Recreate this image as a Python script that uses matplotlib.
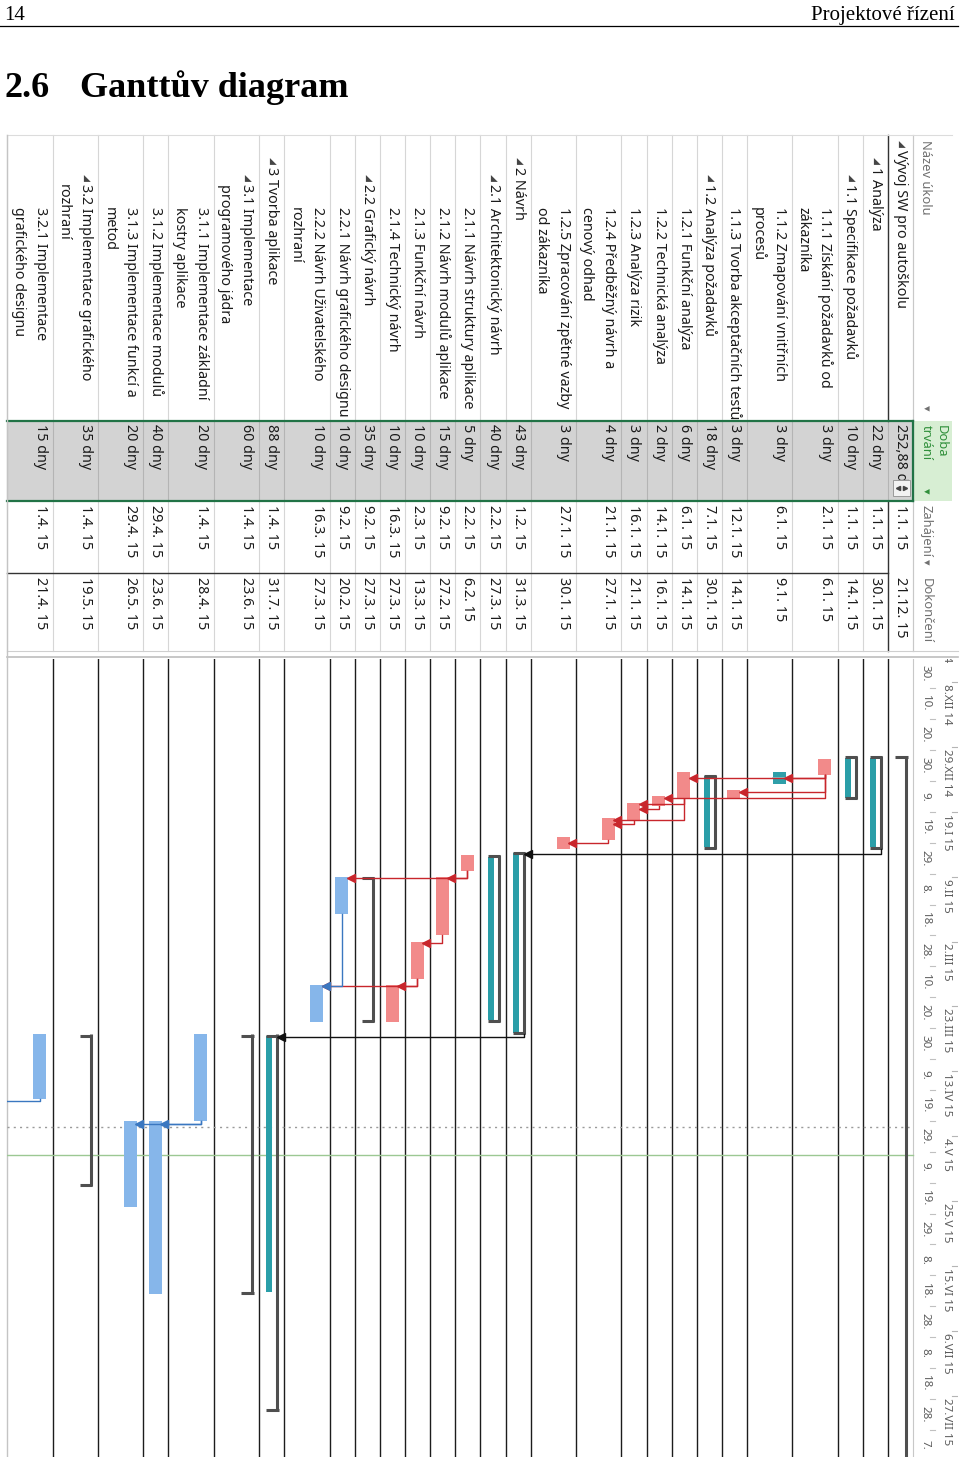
import numpy as np
import matplotlib
matplotlib.use("Agg")
import matplotlib.pyplot as plt
import matplotlib.dates as mdates
from matplotlib.patches import Rectangle
from datetime import datetime, timedelta

plt.rcParams['font.family'] = ['Noto Sans', 'DejaVu Sans']

# ---------------- data ----------------
names = [
    "Vývoj SW pro autoškolu",
    "1 Analýza",
    "1.1 Specifikace požadavků",
    "1.1.1 Získání požadavků od\nzákazníka",
    "1.1.2 Zmapování vnitřních\nprocesů",
    "1.1.3 Tvorba akceptačních testů",
    "1.2 Analýza požadavků",
    "1.2.1 Funkční analýza",
    "1.2.2 Technická analýza",
    "1.2.3 Analýza rizik",
    "1.2.4 Předběžný návrh a\ncenový odhad",
    "1.2.5 Zpracování zpětné vazby\nod zákazníka",
    "2 Návrh",
    "2.1 Architektonický návrh",
    "2.1.1 Návrh struktury aplikace",
    "2.1.2 Návrh modulů aplikace",
    "2.1.3 Funkční návrh",
    "2.1.4 Technický návrh",
    "2.2 Grafický návrh",
    "2.2.1 Návrh grafického designu",
    "2.2.2 Návrh Uživatelského\nrozhraní",
    "3 Tvorba aplikace",
    "3.1 Implementace\nprogramového jádra",
    "3.1.1 Implementace základní\nkostry aplikace",
    "3.1.2 Implementace modulů",
    "3.1.3 Implementace funkcí a\nmetod",
    "3.2 Implementace grafického\nrozhraní",
    "3.2.1 Implementace\ngrafického designu",
]
levels = [0, 1, 2, 3, 3, 3, 2, 3, 3, 3, 3, 3, 1, 2, 3, 3, 3, 3, 2, 3, 3, 1, 2, 3, 3, 3, 2, 3]
durations = ["252,88 d", "22 dny", "10 dny", "3 dny", "3 dny", "3 dny", "18 dny", "6 dny",
             "2 dny", "3 dny", "4 dny", "3 dny", "43 dny", "40 dny", "5 dny", "15 dny",
             "10 dny", "10 dny", "35 dny", "10 dny", "10 dny", "88 dny", "60 dny", "20 dny",
             "40 dny", "20 dny", "35 dny", "15 dny"]
starts = ["1.1. 15", "1.1. 15", "1.1. 15", "2.1. 15", "6.1. 15", "12.1. 15", "7.1. 15",
          "6.1. 15", "14.1. 15", "16.1. 15", "21.1. 15", "27.1. 15", "1.2. 15", "2.2. 15",
          "2.2. 15", "9.2. 15", "2.3. 15", "16.3. 15", "9.2. 15", "9.2. 15", "16.3. 15",
          "1.4. 15", "1.4. 15", "1.4. 15", "29.4. 15", "29.4. 15", "1.4. 15", "1.4. 15"]
finishes = ["21.12. 15", "30.1. 15", "14.1. 15", "6.1. 15", "9.1. 15", "14.1. 15", "30.1. 15",
            "14.1. 15", "16.1. 15", "21.1. 15", "27.1. 15", "30.1. 15", "31.3. 15", "27.3. 15",
            "6.2. 15", "27.2. 15", "13.3. 15", "27.3. 15", "27.3. 15", "20.2. 15", "27.3. 15",
            "31.7. 15", "23.6. 15", "28.4. 15", "23.6. 15", "26.5. 15", "19.5. 15", "21.4. 15"]
# sum = summary bracket, crit = critical (red), norm = normal (blue), done = finished task
kinds = ["sum", "sum", "sum", "crit", "done", "crit", "sum", "crit", "crit", "crit", "crit",
         "crit", "sum", "sum", "crit", "crit", "crit", "crit", "sum", "norm", "norm", "sum",
         "sum", "norm", "norm", "norm", "sum", "norm"]
bold_cells = [0, 2, 6, 13, 18]
# teal part inside some summary bars
summary_fill = {1: ("1.1. 15", "30.1. 15"), 2: ("1.1. 15", "14.1. 15"),
                6: ("7.1. 15", "30.1. 15"), 12: ("1.2. 15", "31.3. 15"),
                13: ("2.2. 15", "27.3. 15"), 21: ("1.4. 15", "23.6. 15")}
# predecessor, successor, colour
links = [(3, 4, "r"), (3, 5, "r"), (3, 7, "r"), (3, 8, "r"), (7, 9, "r"), (8, 9, "r"),
         (7, 10, "r"), (9, 10, "r"), (10, 11, "r"), (1, 12, "k"), (14, 15, "r"),
         (14, 19, "r"), (15, 16, "r"), (16, 17, "r"), (16, 20, "r"), (19, 20, "b"),
         (12, 21, "k"), (23, 24, "b"), (23, 25, "b"), (27, None, "b")]
status_date = datetime(2015, 5, 1)
today = datetime(2015, 5, 10)
top_tier_start = datetime(2014, 11, 17)   # every 3 weeks
bottom_tier_start = datetime(2014, 11, 30)  # every 10 days
ROMAN = ["I", "II", "III", "IV", "V", "VI", "VII", "VIII", "IX", "X", "XI", "XII"]


def to_date(s):
    d, m, y = s.replace(" ", "").split(".")
    return datetime(2000 + int(y), int(m), int(d))


def dn(s):
    return mdates.date2num(to_date(s))


# ---------------- figure ----------------
W, H = 960, 1457
fig = plt.figure(figsize=(W / 100, H / 100), dpi=100)
page = fig.add_axes([0, 0, 1, 1])
page.set_xlim(0, W)
page.set_ylim(H, 0)
page.axis("off")

SERIF = ["Liberation Serif", "DejaVu Serif"]
page.text(4, 20, "14", fontsize=15, family=SERIF, va="baseline")
page.text(955, 20, "Projektové řízení", fontsize=15, family=SERIF, ha="right", va="baseline")
page.plot([0, 958], [26, 26], color="black", lw=0.9)
page.text(4, 97, "2.6", fontsize=26, family=SERIF, weight="bold", va="baseline")
page.text(80, 97, "Ganttův diagram", fontsize=26, family=SERIF, weight="bold", va="baseline")

# row geometry (screenshot rotated 90 degrees, first row on the right)
n_lines = [len(n.split("\n")) for n in names]
row_h = np.array([25.1 if k == 1 else 45.4 for k in n_lines])
right = 913 - np.concatenate([[0], np.cumsum(row_h)[:-1]])
left = right - row_h
edges = list(right) + [left[-1]]

# ---------------- table part ----------------
TY0, NAME1, DUR1, START1, FIN1 = 135, 421, 501, 573, 651
TXT = "#1a1a1a"
FS = 10.3
page.add_patch(Rectangle((7, NAME1), 906, DUR1 - NAME1, fc="#d3d3d3", ec="none"))
page.add_patch(Rectangle((913, NAME1), 39, DUR1 - NAME1, fc="#d7eed3", ec="none"))
for x in edges:
    page.plot([x, x], [TY0, FIN1], color="#d6d6d6", lw=0.8)
    page.plot([x, x], [NAME1, DUR1], color="#b4b4b4", lw=0.8)
page.plot([888, 888], [TY0, NAME1], color="#333", lw=1.0)
page.plot([888, 888], [DUR1, FIN1], color="#333", lw=1.0)
page.plot([913, 913], [TY0, FIN1], color="#c8c8c8", lw=0.8)
page.plot([7, 952], [TY0, TY0], color="#dcdcdc", lw=0.8)
page.plot([7, 888], [START1, START1], color="#333", lw=1.0)
page.plot([7, 913], [NAME1, NAME1], color="#217346", lw=1.6)
page.plot([7, 913], [DUR1, DUR1], color="#217346", lw=1.6)
page.plot([913, 913], [NAME1, DUR1], color="#217346", lw=1.6)
page.plot([7, 958], [FIN1, FIN1], color="#cfcfcf", lw=0.8)
page.plot([7, 958], [657, 657], color="#bdbdbd", lw=1.2)
page.plot([7, 7], [TY0, H], color="#c4c4c4", lw=1.0)

name_clip = Rectangle((0, TY0), 960, NAME1 - TY0 - 2, transform=page.transData, fc="none", ec="none")
page.add_patch(name_clip)
rot = dict(rotation=-90, rotation_mode="anchor", va="center", ha="left")

HFS = 9.3
page.text(926, 140, "Název úkolu", fontsize=HFS, color="#707070", **rot)
page.text(926, 405, "▾", fontsize=8, color="#707070", family="DejaVu Sans", **rot)
page.text(941, 425, "Doba", fontsize=HFS, color="#2f8f3a", **rot)
page.text(926, 425, "trvání", fontsize=HFS, color="#2f8f3a", **rot)
page.text(926, 488, "▾", fontsize=8, color="#2f8f3a", family="DejaVu Sans", **rot)
zclip = Rectangle((0, DUR1), 960, 54, transform=page.transData, fc="none", ec="none")
page.add_patch(zclip)
t = page.text(926, 505, "Zahájení", fontsize=HFS, color="#707070", **rot)
t.set_clip_path(zclip)
page.text(926, 559, "▾", fontsize=8, color="#707070", family="DejaVu Sans", **rot)
page.text(926, 578, "Dokončení", fontsize=HFS, color="#707070", **rot)

for i, name in enumerate(names):
    is_sum = kinds[i] == "sum"
    x1 = right[i] - 12.5
    if is_sum:
        ty = 150 + 17 * levels[i]
        page.text(x1 + 1, ty - 10, "◢", fontsize=6.5, color="#444", family="DejaVu Sans", **rot)
    else:
        ty = 207
    for j, line in enumerate(name.split("\n")):
        t = page.text(x1 - 22 * j, ty, line, fontsize=FS, color=TXT,
                      weight="bold" if is_sum else "normal", **rot)
        t.set_clip_path(name_clip)
    w = "bold" if i in bold_cells else "normal"
    page.text(x1, 424, durations[i], fontsize=FS, color=TXT, weight=w, **rot)
    page.text(x1, 505, starts[i], fontsize=FS, color=TXT, weight=w, **rot)
    page.text(x1, 577, finishes[i], fontsize=FS, color=TXT, weight=w, **rot)

# spinner of the edited duration cell
page.add_patch(Rectangle((893, 480), 17, 16, fc="#f2f2f2", ec="#9a9a9a", lw=0.7, zorder=5))
page.plot([905], [488], marker=">", ms=3, color="#444", zorder=6)
page.plot([897.5], [488], marker="<", ms=3, color="#444", zorder=6)

# ---------------- gantt part ----------------
GX0, GX1, GY0, GY1 = 7, 958, 659, 1457
T0 = datetime(2014, 11, 30, 13)
T1 = datetime(2015, 8, 15, 19)
gantt = fig.add_axes([GX0 / W, 1 - GY1 / H, (GX1 - GX0) / W, (GY1 - GY0) / H])
gantt.set_xlim(GX0, GX1)
gantt.set_ylim(mdates.date2num(T1), mdates.date2num(T0))
gantt.axis("off")
DPX = (mdates.date2num(T1) - mdates.date2num(T0)) / (GY1 - GY0)  # days per pixel
yhi = mdates.date2num(T1)

for x in edges[1:-1]:
    gantt.axvline(x, color="#1c1c1c", lw=1.0, zorder=1)
gantt.axvline(913, color="#c8c8c8", lw=0.8)

# timescale: top tier every 3 weeks, bottom tier every 10 days
TFS = 8.3
for k in range(14):
    d = top_tier_start + timedelta(days=21 * k)
    y = mdates.date2num(d)
    if y > yhi - 45 * DPX:
        continue
    gantt.plot([952, 958], [y, y], color="#b5b5b5", lw=0.8)
    gantt.text(947, y + 0.6, f"{d.day}.{ROMAN[d.month - 1]} {d:%y}", fontsize=TFS,
               color="#5a5a5a", clip_on=True, **rot)
for k in range(26):
    d = bottom_tier_start + timedelta(days=10 * k)
    y = mdates.date2num(d)
    if y + 5 + 6 * DPX > yhi:
        continue
    gantt.plot([930, 935], [y, y], color="#c0c0c0", lw=0.8)
    gantt.text(925, y + 5, f"{d.day}.", fontsize=TFS, color="#5a5a5a", rotation=-90,
               ha="center", va="center")

gantt.plot([7, 913], [mdates.date2num(status_date)] * 2, color="#9a9a9a", lw=1.0, ls=(0, (1.5, 3)))
gantt.plot([7, 913], [mdates.date2num(today)] * 2, color="#9cc893", lw=1.0)

BAR = {"crit": "#f28a8a", "norm": "#86b6ea", "done": "#2f9fa9"}
GRAY = "#4f4f4f"
TEAL = "#2a9ea8"
for i, k in enumerate(kinds):
    s, e = dn(starts[i]), dn(finishes[i]) + 1
    r = right[i]
    if k == "sum":
        if i in summary_fill:
            fs, fe = dn(summary_fill[i][0]), dn(summary_fill[i][1]) + 1
            gantt.add_patch(Rectangle((r - 18, fs + 1.5 * DPX), 6, fe - fs - 3 * DPX,
                                      fc=TEAL, ec="none", zorder=3))
        gantt.plot([r - 7, r - 7], [s, e], color=GRAY, lw=2.2, solid_capstyle="butt", zorder=4)
        for y, sign in ((s, 1), (e, -1)):
            gantt.plot([r - 18, r - 5.5], [y + DPX * 1.2 * sign] * 2,
                       color=GRAY, lw=2.2, solid_capstyle="butt", zorder=4)
    else:
        gantt.add_patch(Rectangle((r - 19.5, s), 13, e - s, fc=BAR[k], ec="none", zorder=3))
        if k == "done":
            gantt.plot([r - 19.5, r - 6.5], [(s + e) / 2] * 2, color="#8fd0d6", lw=1.2, zorder=4)

LINK = {"r": "#c8262c", "b": "#3a77c0", "k": "#111111"}
for p, q, c in links:
    pe = dn(finishes[p]) + 1
    x0 = right[p] - (7 if kinds[p] == "sum" else 13)
    if q is None:
        ya = pe + 0.7
        gantt.plot([x0, x0, GX0], [pe, ya, ya], color=LINK[c], lw=1.0, zorder=5)
        continue
    qs = dn(starts[q])
    ya = max(qs + 0.5, pe + 1.0)
    x1 = right[q] - (5.5 if kinds[q] == "sum" else 6.5)
    gantt.plot([x0, x0, x1 + 3], [pe, ya, ya], color=LINK[c], lw=1.0, zorder=5)
    gantt.plot([x1 + 2.5], [ya], marker="<", ms=5.5, color=LINK[c], mec=LINK[c], zorder=6)

fig.savefig("out.png", dpi=100)
